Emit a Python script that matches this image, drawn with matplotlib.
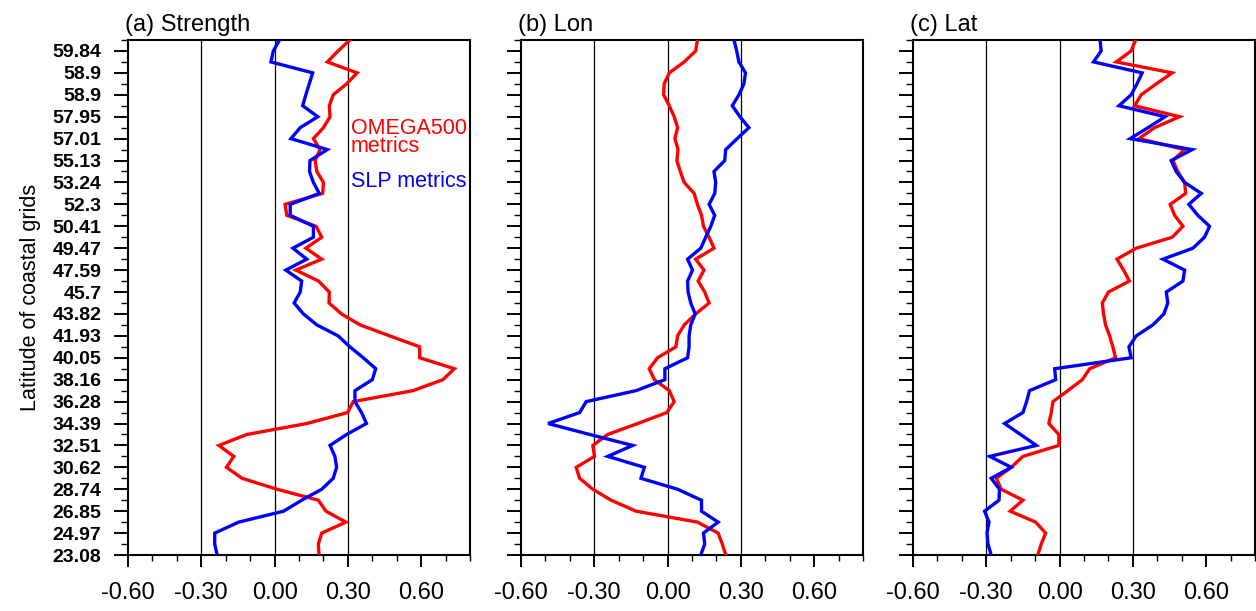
import numpy as np
import matplotlib
matplotlib.use("Agg")
import matplotlib.pyplot as plt
from matplotlib.ticker import MultipleLocator, FixedLocator

# ---------------- data (index 0 = southernmost coastal grid) ----------------
lat_labels = ["23.08", "24.97", "26.85", "28.74", "30.62", "32.51", "34.39",
              "36.28", "38.16", "40.05", "41.93", "43.82", "45.7", "47.59",
              "49.47", "50.41", "52.3", "53.24", "55.13", "57.01", "57.95",
              "58.9", "58.9", "59.84"]

strength_slp = [-0.235, -0.245, -0.245, -0.147, 0.037, 0.111, 0.193, 0.24,
                0.254, 0.247, 0.227, 0.295, 0.376, 0.356, 0.329, 0.329,
                0.40, 0.414, 0.363, 0.308, 0.26, 0.173, 0.118, 0.08,
                0.105, 0.111, 0.046, 0.132, 0.075, 0.159, 0.159, 0.064,
                0.064, 0.183, 0.159, 0.143, 0.145, 0.216, 0.067, 0.105,
                0.177, 0.115, 0.128, 0.142, 0.156, -0.015, -0.005, 0.02]
strength_omega = [0.182, 0.179, 0.193, 0.292, 0.21, 0.179, 0.01, -0.133,
                  -0.197, -0.167, -0.228, -0.113, 0.132, 0.299, 0.322, 0.567,
                  0.689, 0.736, 0.594, 0.594, 0.471, 0.35, 0.274, 0.223,
                  0.224, 0.18, 0.087, 0.193, 0.128, 0.193, 0.17, 0.05,
                  0.043, 0.197, 0.2, 0.173, 0.166, 0.186, 0.159, 0.2,
                  0.227, 0.224, 0.24, 0.295, 0.338, 0.216, 0.26, 0.308]

lon_slp = [0.136, 0.152, 0.147, 0.207, 0.139, 0.139, 0.041, -0.109,
           -0.095, -0.245, -0.143, -0.319, -0.489, -0.36, -0.333, -0.129,
           -0.011, -0.011, 0.082, 0.088, 0.088, 0.095, 0.113, 0.095,
           0.084, 0.082, 0.102, 0.082, 0.136, 0.156, 0.177, 0.193,
           0.17, 0.193, 0.197, 0.19, 0.234, 0.238, 0.285, 0.333,
           0.296, 0.265, 0.292, 0.3125, 0.319, 0.292, 0.283, 0.272]
lon_omega = [0.238, 0.224, 0.207, 0.122, -0.129, -0.231, -0.306, -0.36,
             -0.374, -0.299, -0.306, -0.245, -0.122, -0.003, 0.027, 0.007,
             -0.054, -0.075, -0.041, 0.034, 0.041, 0.068, 0.115, 0.17,
             0.152, 0.125, 0.149, 0.115, 0.19, 0.17, 0.147, 0.139,
             0.122, 0.109, 0.068, 0.052, 0.038, 0.043, 0.03, 0.041,
             0.027, 0.007, -0.016, -0.014, 0.007, 0.068, 0.115, 0.122]

lat_slp = [-0.28, -0.293, -0.297, -0.289, -0.307, -0.248, -0.246, -0.28,
           -0.198, -0.286, -0.095, -0.16, -0.225, -0.15, -0.135, -0.123,
           -0.016, -0.02, 0.293, 0.284, 0.314, 0.382, 0.427, 0.443,
           0.437, 0.505, 0.512, 0.423, 0.546, 0.593, 0.614, 0.566,
           0.529, 0.58, 0.512, 0.477, 0.457, 0.543, 0.289, 0.362,
           0.432, 0.243, 0.293, 0.317, 0.338, 0.139, 0.17, 0.166]
lat_omega = [-0.089, -0.075, -0.057, -0.098, -0.202, -0.15, -0.239, -0.259,
             -0.198, -0.15, -0.003, -0.003, -0.044, -0.034, -0.027, 0.034,
             0.093, 0.123, 0.229, 0.218, 0.205, 0.188, 0.18, 0.175,
             0.2, 0.286, 0.262, 0.235, 0.314, 0.461, 0.505, 0.471,
             0.453, 0.516, 0.512, 0.484, 0.464, 0.512, 0.325, 0.389,
             0.491, 0.307, 0.334, 0.396, 0.461, 0.232, 0.293, 0.311]

x_ticks = [-0.6, -0.3, 0.0, 0.3, 0.6]
x_ticklabels = ["-0.60", "-0.30", "0.00", "0.30", "0.60"]
ref_lines = [-0.3, 0.0, 0.3]
titles = ["(a) Strength", "(b) Lon", "(c) Lat"]
panels = [(strength_omega, strength_slp), (lon_omega, lon_slp), (lat_omega, lat_slp)]

# ---------------- figure ----------------
plt.rcParams["font.family"] = ["Liberation Sans", "DejaVu Sans"]
W, H = 1256, 611
fig = plt.figure(figsize=(W / 100, H / 100), dpi=100)

lefts = [128, 521, 913]
ax_w, ax_top, ax_bot = 342, 40, 555
RED, BLUE = "#ff0000", "#0000ff"

for k, (left, (omega, slp), title) in enumerate(zip(lefts, panels, titles)):
    ax = fig.add_axes([left / W, (H - ax_bot) / H, ax_w / W, (ax_bot - ax_top) / H])
    y = np.arange(len(omega))
    for xr in ref_lines:
        ax.axvline(xr, color="black", lw=0.9, zorder=1)
    ax.plot(omega, y, color=RED, lw=2.4, zorder=3, solid_joinstyle="miter")
    ax.plot(slp, y, color=BLUE, lw=2.4, zorder=3, solid_joinstyle="miter")
    ax.set_xlim(-0.6, 0.8)
    ax.set_ylim(0, len(omega) - 1)

    ax.xaxis.set_major_locator(FixedLocator(x_ticks))
    ax.xaxis.set_minor_locator(MultipleLocator(0.1))
    ax.set_xticklabels(x_ticklabels, fontsize=17)
    ax.yaxis.set_major_locator(FixedLocator(list(range(0, 2 * len(lat_labels), 2))))
    ax.yaxis.set_minor_locator(FixedLocator(list(range(1, 2 * len(lat_labels), 2))))
    if k == 0:
        ax.set_yticklabels(lat_labels, fontsize=14, fontweight="bold")
        ax.set_ylabel("Latitude of coastal grids", fontsize=15.5, labelpad=8)
    else:
        ax.set_yticklabels([])

    ax.tick_params(axis="x", which="major", direction="out", length=8.5, width=1.4,
                   pad=11, top=False)
    ax.tick_params(axis="x", which="minor", direction="out", length=4, width=1.0, top=False)
    ax.tick_params(axis="y", which="major", direction="out", length=10, width=1.4,
                   pad=9, right=False)
    ax.tick_params(axis="y", which="minor", direction="out", length=5, width=1.0, right=False)
    for sp in ax.spines.values():
        sp.set_linewidth(1.5)

    ax.text(-3 / ax_w, 1 + 9 / (ax_bot - ax_top), title, transform=ax.transAxes,
            fontsize=17, ha="left", va="baseline")

    if k == 0:
        ax.text(0.311, 36.75, "OMEGA500\nmetrics", color=RED, fontsize=15.5,
                va="baseline", ha="left", linespacing=0.85)
        ax.text(0.311, 33.6, "SLP metrics", color=BLUE, fontsize=15.5,
                va="baseline", ha="left")

fig.savefig("out.png", dpi=100)
